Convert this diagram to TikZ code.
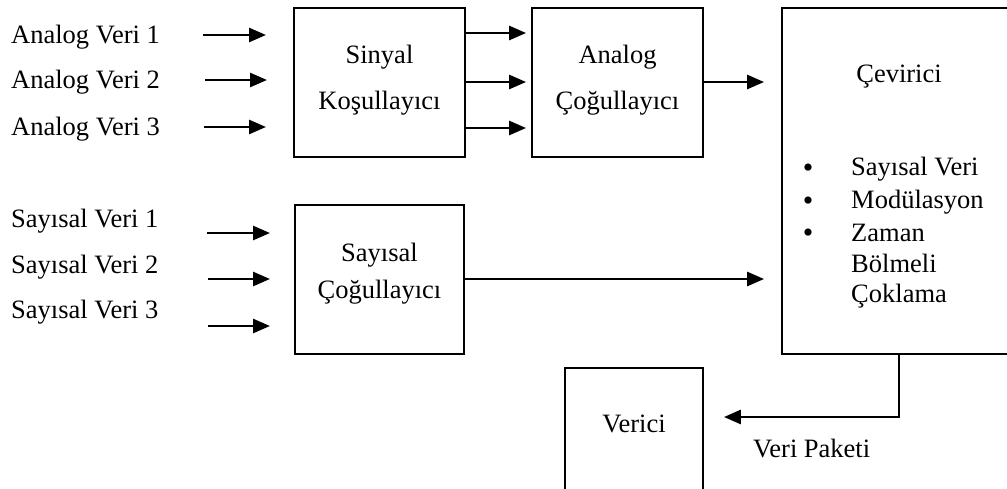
\documentclass[tikz,border=0pt]{standalone}
\usepackage{fontspec}
\setmainfont{Liberation Serif}
\usetikzlibrary{arrows.meta}
\begin{document}
\begin{tikzpicture}[x=1pt,y=-1pt,
  box/.style={draw, line width=1.8pt, inner sep=0pt},
  lbl/.style={anchor=base west, inner sep=0pt, font=\fontsize{26.5}{31}\selectfont},
  ctr/.style={anchor=base, inner sep=0pt, font=\fontsize{26.5}{31}\selectfont},
  bul/.style={anchor=base, inner sep=0pt, font=\fontsize{30}{30}\selectfont},
  arr/.style={line width=2.7pt, -{Triangle[length=17pt,width=14pt]}},
  ]
\clip (0,0) rectangle (1007,488);
% boxes
\node[box, minimum width=171pt, minimum height=149pt] (sinyal) at (379.5,82.5) {};
\node[box, minimum width=171pt, minimum height=149pt] (analog) at (617.5,82.5) {};
\node[box, minimum width=169pt, minimum height=149pt] (sayisal) at (379.5,279.5) {};
\node[box, minimum width=240pt, minimum height=346pt] (cev) at (902,181) {};
\node[box, minimum width=138pt, minimum height=132pt] (verici) at (634,434) {};
% box texts
\node[ctr] (t1) at (379.5,63) {Sinyal};
\node[ctr] (t2) at (379.5,109) {Koşullayıcı};
\node[ctr] (t3) at (617.5,63) {Analog};
\node[ctr] (t4) at (617.5,109) {Çoğullayıcı};
\node[ctr] (t5) at (379.5,261) {Sayısal};
\node[ctr] (t6) at (379.5,298) {Çoğullayıcı};
\node[ctr] (t7) at (899,82) {Çevirici};
\node[ctr] (t8) at (634,432) {Verici};
\node[lbl] (t9) at (753,457) {Veri Paketi};
% bullet list
\node[bul] (b1) at (808,177.5) {•};
\node[bul] (b2) at (808,210.5) {•};
\node[bul] (b3) at (808,242.5) {•};
\node[lbl] (l1) at (851,175) {Sayısal Veri};
\node[lbl] (l2) at (851,208) {Modülasyon};
\node[lbl] (l3) at (851,241) {Zaman};
\node[lbl] (l4) at (851,272) {Bölmeli};
\node[lbl] (l5) at (851,302) {Çoklama};
% input labels
\node[lbl] (a1) at (11,43) {Analog Veri 1};
\node[lbl] (a2) at (11,88) {Analog Veri 2};
\node[lbl] (a3) at (11,135) {Analog Veri 3};
\node[lbl] (s1) at (11,227) {Sayısal Veri 1};
\node[lbl] (s2) at (11,273) {Sayısal Veri 2};
\node[lbl] (s3) at (11,318) {Sayısal Veri 3};
% input arrow coordinates
\coordinate (a1s) at (203,35);  \coordinate (a1e) at (266,35);
\coordinate (a2s) at (205,80);  \coordinate (a2e) at (267,80);
\coordinate (a3s) at (204,127); \coordinate (a3e) at (266,127);
\coordinate (s1s) at (207,233); \coordinate (s1e) at (270,233);
\coordinate (s2s) at (208,279); \coordinate (s2e) at (270,279);
\coordinate (s3s) at (208,326); \coordinate (s3e) at (270,326);
\foreach \p in {a1,a2,a3,s1,s2,s3}{
  \draw[arr] (\p s) -- (\p e);
}
% sinyal -> analog
\foreach \yy in {33,82,128}{
  \draw[arr] (sinyal.east |- 0,\yy) -- ([xshift=-5pt]analog.west |- 0,\yy);
}
% analog -> cevirici
\draw[arr] (analog.east |- 0,82) -- ([xshift=-17pt]cev.west |- 0,82);
% sayisal -> cevirici
\draw[arr] (sayisal.east |- 0,279) -- ([xshift=-17pt]cev.west |- 0,279);
% cevirici -> verici
\coordinate (k) at (899,417);
\draw[arr] (cev.south -| k) -- (k) -- ([xshift=20pt]verici.east |- k);
\end{tikzpicture}
\end{document}
